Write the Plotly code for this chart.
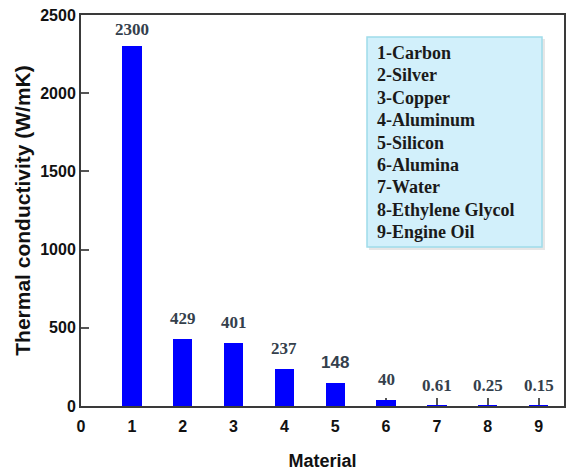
import plotly.graph_objects as go

positions = [1, 2, 3, 4, 5, 6, 7, 8, 9]
conductivity = [2300, 429, 401, 237, 148, 40, 0.61, 0.25, 0.15]
value_labels = ["2300", "429", "401", "237", "148", "40", "0.61", "0.25", "0.15"]
materials = ["Carbon", "Silver", "Copper", "Aluminum", "Silicon", "Alumina",
             "Water", "Ethylene Glycol", "Engine Oil"]
x_ticks = [0, 1, 2, 3, 4, 5, 6, 7, 8, 9]
y_ticks = [0, 500, 1000, 1500, 2000, 2500]

W, H = 571, 473
ml, mr, mt, mb = 81, 7, 15, 67

fig = go.Figure()
fig.add_trace(go.Bar(
    x=positions, y=conductivity, width=0.38,
    marker=dict(color="#0000FF", line=dict(width=0)),
    showlegend=False, hoverinfo="x+y",
))

for xv, yv, lab in zip(positions, conductivity, value_labels):
    fam = "Liberation Sans" if lab == "148" else "Liberation Serif"
    fig.add_annotation(
        x=xv, y=yv, text="<b>%s</b>" % lab, showarrow=False,
        xanchor="center", yanchor="bottom", yshift=5 if yv > 1000 else 9,
        font=dict(family=fam, size=17, color="#34404c"),
    )

axis_common = dict(
    showline=True, linecolor="#3a3a3a", linewidth=2, mirror=True,
    ticks="inside", ticklen=8, tickwidth=1.5, tickcolor="#555555",
    showgrid=False, zeroline=False, layer="below traces", automargin=False,
    tickfont=dict(family="Liberation Sans", size=16, color="#111111", weight="bold"),
)

fig.update_xaxes(
    range=[0, 9.5], tickvals=x_ticks, ticktext=[str(t) for t in x_ticks],
    title=dict(text="<b>Material</b>", font=dict(family="Liberation Sans", size=18, color="#111111"),
               standoff=20),
    ticklabelstandoff=5,
    **axis_common,
)
fig.update_yaxes(
    range=[0, 2500], tickvals=y_ticks, ticktext=[str(t) for t in y_ticks],
    title=dict(text="<b>Thermal conductivity (W/mK)</b>",
               font=dict(family="Liberation Sans", size=21, color="#111111"), standoff=4),
    **axis_common,
)

# legend-like text box
pw = W - ml - mr
ph = H - mt - mb
def px2paper_x(px):
    return (px - ml) / pw
def px2paper_y(py):
    return 1 - (py - mt) / ph

fig.add_shape(type="rect", xref="paper", yref="paper",
              x0=px2paper_x(369), x1=px2paper_x(545), y0=px2paper_y(250), y1=px2paper_y(39),
              fillcolor="#d6d6d6", line=dict(width=0), layer="above", opacity=0.6)
fig.add_shape(type="rect", xref="paper", yref="paper",
              x0=px2paper_x(367), x1=px2paper_x(542), y0=px2paper_y(247), y1=px2paper_y(37),
              fillcolor="#d2f0fb", line=dict(color="#9fdcea", width=1.5), layer="above")

for i, name in enumerate(materials):
    fig.add_annotation(
        xref="paper", yref="paper",
        x=px2paper_x(375), y=px2paper_y(53 + i * 22.4),
        text="<b>%d-%s</b>" % (i + 1, name), showarrow=False,
        xanchor="left", yanchor="middle",
        font=dict(family="Liberation Serif", size=18, color="#1a1a1a"),
    )

fig.update_layout(
    width=W, height=H,
    margin=dict(l=ml, r=mr, t=mt, b=mb),
    paper_bgcolor="white", plot_bgcolor="white",
    bargap=0,
)

fig.write_html("out.html")
